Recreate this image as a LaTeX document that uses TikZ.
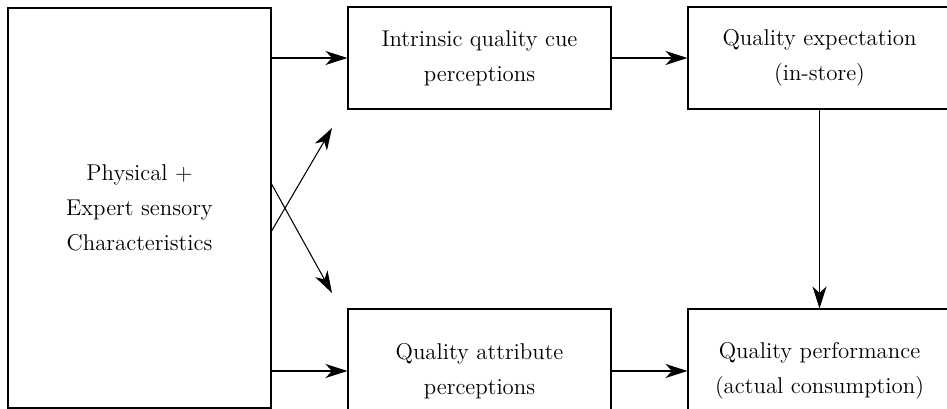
\documentclass[tikz,border=0pt]{standalone}
\usetikzlibrary{arrows.meta}
\tikzset{
  blk/.style={draw, line width=0.6pt, align=center, font=\fontsize{13}{20}\selectfont,
    minimum width=5.26cm, minimum height=2.04cm, inner sep=0pt},
  arr/.style={line width=0.6pt, -{Stealth[length=4.4mm, width=2.8mm, inset=1.3mm]}}
}
\begin{document}
\begin{tikzpicture}
\useasboundingbox (0,0) rectangle (18.94,-8.18);
\node[blk, minimum height=8cm] (phys) at (2.79,-4.16) {Physical +\\Expert sensory\\Characteristics};
\node[blk] (cue) at (9.59,-1.16) {Intrinsic quality cue\\perceptions};
\node[blk] (expect) at (16.39,-1.16) {Quality expectation\\(in-store)};
\node[blk, minimum height=2.48cm] (attr) at (9.59,-7.42) {Quality attribute\\perceptions};
\node[blk, minimum height=2.48cm] (perf) at (16.39,-7.42) {Quality performance\\(actual consumption)};
\coordinate (crossA) at (5.42,-3.66);
\coordinate (crossB) at (5.42,-4.64);
\coordinate (tipA) at (6.64,-5.86);
\coordinate (tipB) at (6.64,-2.56);
\draw[arr] (cue.west -| phys.east) -- (cue.west);
\draw[arr] (attr.west -| phys.east) -- (attr.west);
\draw[arr] (crossA) -- (tipA);
\draw[arr] (crossB) -- (tipB);
\draw[arr] (cue) -- (expect);
\draw[arr] (attr) -- (perf);
\draw[arr] (expect) -- (perf);
\end{tikzpicture}
\end{document}
